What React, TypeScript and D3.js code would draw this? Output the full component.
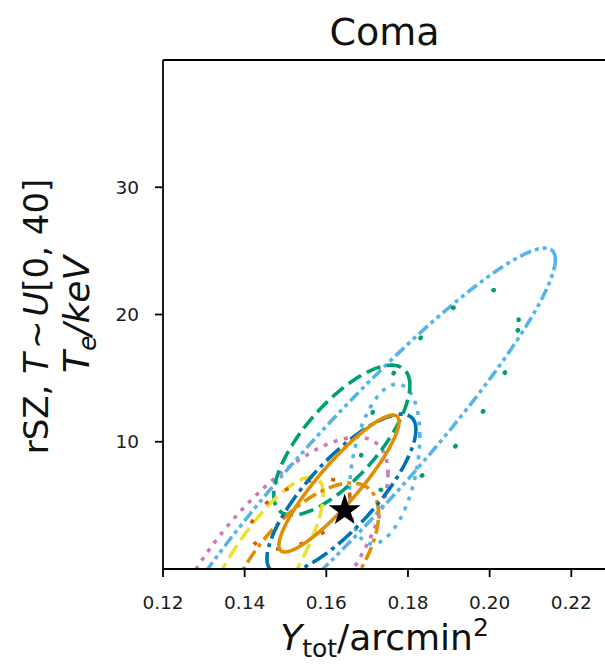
import React from 'react';
import * as d3 from 'd3';

// ---- axis data ----
const xTicks = [0.12, 0.14, 0.16, 0.18, 0.2, 0.22];
const xTickLabels = ['0.12', '0.14', '0.16', '0.18', '0.20', '0.22'];
const yTicks = [10, 20, 30];
const yTickLabels = ['10', '20', '30'];
const xDomain = [0.12, 0.2285];
const yDomain = [0, 40];
const titleText = 'Coma';

// ---- ellipse data (centre, sigmas, correlation) ----
const ellipseIds = ['pinkDot', 'lbBig', 'lbSmall', 'greenLoose', 'greenDash', 'yellowDash', 'redLoose', 'orangeDashDot', 'blueDashDot', 'orangeSolid'];
const centerYtot = [0.1469, 0.1664, 0.1743, 0.1878, 0.1638, 0.1437, 0.1535, 0.1541, 0.1637, 0.1631];
const centerTe = [-0.24, 7.86, 8.25, 14.06, 10.13, 0.0, 4.32, 0.0, 5.89, 6.72];
const sigmaYtot = [0.0282, 0.0497, 0.0086, 0.0193, 0.01667, 0.01554, 0.01225, 0.0187, 0.01824, 0.0147];
const sigmaTe = [10.6, 17.36, 6.28, 7.86, 5.89, 7.23, 2.75, 6.76, 6.28, 5.38];
const correlation = [0.73, 0.948, 0.35, 0.7, 0.73, 0.81, 0.5, 0.64, 0.806, 0.9];

// fiducial point (star)
const fiducialYtot = [0.1645];
const fiducialTe = [4.6];

// ---- styles (kept apart from data) ----
const ellipseStyles: Record<string, { color: string; dash: string; cap: string }> = {
  pinkDot: { color: '#CC78BC', dash: '4,6.6', cap: 'butt' },
  lbBig: { color: '#56B4E9', dash: '12,4,4,4,4,4', cap: 'butt' },
  lbSmall: { color: '#56B4E9', dash: '4,6.6', cap: 'butt' },
  greenLoose: { color: '#029E73', dash: '0.5,44', cap: 'round' },
  greenDash: { color: '#029E73', dash: '14.8,6.4', cap: 'butt' },
  yellowDash: { color: '#ECE133', dash: '14.8,6.4', cap: 'butt' },
  redLoose: { color: '#D55E00', dash: '4,20', cap: 'butt' },
  orangeDashDot: { color: '#DE8F05', dash: '14,5,4,5', cap: 'butt' },
  blueDashDot: { color: '#0173B2', dash: '18,5,4,5', cap: 'butt' },
  orangeSolid: { color: '#DE8F05', dash: '', cap: 'butt' },
};

const W = 605;
const H = 664;
const plotLeft = 163;
const plotRight = 606;
const plotTop = 60;
const plotBottom = 569;

const font = 'DejaVu Sans, Verdana, sans-serif';

export default function App() {
  const x = d3.scaleLinear().domain(xDomain).range([plotLeft, plotRight]);
  const y = d3.scaleLinear().domain(yDomain).range([plotBottom, plotTop]);

  const ts = d3.range(0, 361, 2).map((d) => (d * Math.PI) / 180);
  const lineGen = d3
    .line<[number, number]>()
    .x((d) => x(d[0]))
    .y((d) => y(d[1]))
    .curve(d3.curveLinearClosed);

  const ellipsePaths = ellipseIds.map((id, i) => {
    const cx = centerYtot[i];
    const cy = centerTe[i];
    const sx = sigmaYtot[i];
    const sy = sigmaTe[i];
    const r = correlation[i];
    const pts: [number, number][] = ts.map((t) => [
      cx + sx * Math.cos(t),
      cy + sy * (r * Math.cos(t) + Math.sqrt(1 - r * r) * Math.sin(t)),
    ]);
    return { id, d: lineGen(pts) as string };
  });

  const star = d3.symbol(d3.symbolStar, 320)() as string;

  const tickColor = '#1a1a1a';

  return (
    <svg
      width={W}
      height={H}
      style={{ position: 'absolute', left: 0, top: 0, background: '#fff' }}
      fontFamily={font}
    >
      <defs>
        <clipPath id="plotClip">
          <rect x={plotLeft} y={plotTop} width={plotRight - plotLeft} height={plotBottom - plotTop} />
        </clipPath>
      </defs>
      <rect x={0} y={0} width={W} height={H} fill="#fff" />

      <g clipPath="url(#plotClip)">
        {ellipsePaths.map((e) => (
          <path
            key={e.id}
            d={e.d}
            fill="none"
            stroke={ellipseStyles[e.id].color}
            strokeWidth={e.id === 'greenLoose' ? 4.5 : 3.6}
            strokeLinecap={ellipseStyles[e.id].cap as any}
            strokeDasharray={ellipseStyles[e.id].dash || undefined}
          />
        ))}
        {fiducialYtot.map((fx, i) => (
          <path
            key={'star' + i}
            d={star}
            transform={`translate(${x(fx)},${y(fiducialTe[i])})`}
            fill="#000"
          />
        ))}
      </g>

      {/* spines */}
      <g stroke="#000" strokeWidth={1.8} fill="none">
        <line x1={plotLeft} x2={plotRight} y1={plotTop} y2={plotTop} />
        <line x1={plotLeft} x2={plotRight} y1={plotBottom} y2={plotBottom} />
        <line x1={plotLeft} x2={plotLeft} y1={plotTop} y2={plotBottom} />
        <line x1={plotRight} x2={plotRight} y1={plotTop} y2={plotBottom} />
      </g>

      {/* x ticks */}
      {xTicks.map((t, i) => (
        <g key={'xt' + i}>
          <line x1={x(t)} x2={x(t)} y1={plotBottom} y2={plotBottom + 8} stroke="#000" strokeWidth={1.8} />
          <text x={x(t)} y={609} textAnchor="middle" fontSize={18.5} fill={tickColor}>
            {xTickLabels[i]}
          </text>
        </g>
      ))}

      {/* y ticks */}
      {yTicks.map((t, i) => (
        <g key={'yt' + i}>
          <line x1={plotLeft - 8} x2={plotLeft} y1={y(t)} y2={y(t)} stroke="#000" strokeWidth={1.8} />
          <text x={plotLeft - 24} y={y(t) + 6.7} textAnchor="end" fontSize={18.5} fill={tickColor}>
            {yTickLabels[i]}
          </text>
        </g>
      ))}

      {/* title */}
      <text x={(plotLeft + plotRight) / 2} y={45} textAnchor="middle" fontSize={38} fill="#111">
        {titleText}
      </text>

      {/* x label */}
      <text x={(plotLeft + plotRight) / 2} y={650} textAnchor="middle" fontSize={36} fill="#111">
        <tspan fontStyle="italic">Y</tspan>
        <tspan fontSize={25} dy={7}>tot</tspan>
        <tspan dy={-7}>/arcmin</tspan>
        <tspan fontSize={25} dy={-14}>2</tspan>
      </text>

      {/* y label */}
      <g transform={`translate(48,${(plotTop + plotBottom) / 2 + 2}) rotate(-90)`}>
        <text x={0} y={0} textAnchor="middle" fontSize={34} fill="#111">
          <tspan>rSZ, </tspan>
          <tspan fontStyle="italic">T</tspan>
          <tspan dx={4}>~</tspan>
          <tspan dx={4} fontStyle="italic">U</tspan>
          <tspan>[0, 40]</tspan>
        </text>
      </g>
      <g transform={`translate(89,${(plotTop + plotBottom) / 2}) rotate(-90)`}>
        <text x={0} y={0} textAnchor="middle" fontSize={36} fill="#111" fontStyle="italic">
          <tspan>T</tspan>
          <tspan fontSize={25} dy={7}>e</tspan>
          <tspan dy={-7}>/keV</tspan>
        </text>
      </g>
    </svg>
  );
}
